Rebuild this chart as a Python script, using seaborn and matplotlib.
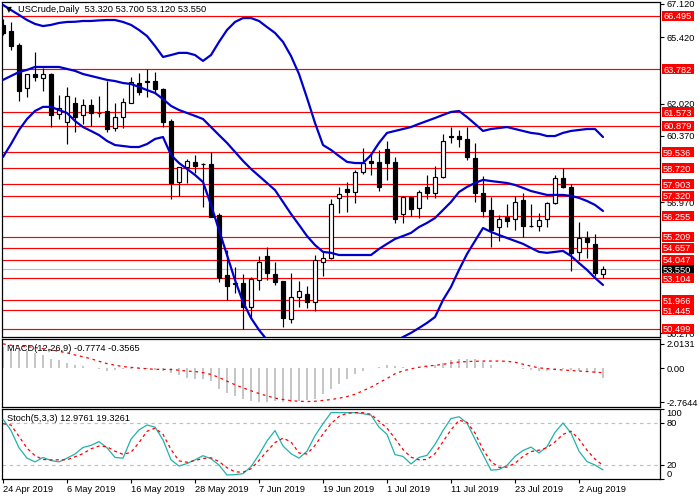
import numpy as np
import pandas as pd
import matplotlib
matplotlib.use("Agg")
import matplotlib.pyplot as plt
import matplotlib.transforms as mtransforms
from matplotlib.patches import Rectangle
import seaborn as sns

# ---------------- data ----------------
opens = [66.03, 65.73, 65.01, 62.80, 63.53, 63.31, 63.53, 61.47, 61.09, 62.03,
         61.42, 61.93, 61.55, 61.64, 60.79, 61.32, 62.03, 63.05, 63.17, 63.17,
         62.76, 61.13, 58.03, 58.79, 59.02, 58.94, 58.93, 56.32, 53.26, 52.84,
         52.84, 51.60, 53.00, 54.25, 53.31, 52.95, 50.99, 52.15, 52.27, 51.90,
         53.94, 54.11, 57.18, 57.65, 57.52, 58.54, 59.07, 59.02, 59.68, 59.02,
         56.36, 57.23, 56.67, 57.74, 57.43, 58.25, 60.36, 60.36, 60.19, 59.22,
         57.43, 56.58, 55.70, 56.24, 56.10, 57.09, 55.78, 55.78, 56.10, 56.92,
         58.20, 57.74, 54.45, 55.13, 54.83, 53.32]
highs = [66.32, 66.17, 65.10, 63.55, 64.64, 63.82, 63.56, 62.46, 62.85, 62.37,
         62.27, 62.24, 62.42, 63.17, 62.03, 62.29, 63.39, 63.56, 63.77, 63.65,
         62.80, 61.21, 58.79, 59.17, 59.39, 58.97, 59.53, 56.41, 54.54, 53.68,
         53.31, 53.17, 54.23, 54.70, 53.94, 52.95, 53.38, 52.97, 52.70, 54.28,
         54.42, 57.13, 57.74, 58.03, 58.63, 59.73, 59.56, 59.65, 60.12, 59.30,
         57.30, 57.26, 57.60, 58.37, 58.83, 60.46, 60.84, 60.67, 60.84, 59.99,
         58.32, 57.26, 56.32, 56.89, 57.30, 57.46, 56.89, 56.41, 57.00, 58.37,
         58.71, 57.91, 55.98, 55.51, 55.35, 53.70]
lows = [65.52, 64.76, 62.17, 62.37, 63.19, 62.68, 60.84, 61.21, 59.95, 60.58,
        60.97, 60.87, 61.35, 60.58, 60.63, 60.79, 62.03, 62.46, 62.37, 62.57,
        60.84, 57.14, 57.31, 57.97, 58.45, 56.72, 56.21, 52.92, 51.98, 52.32,
        50.48, 51.05, 52.49, 53.00, 52.75, 50.62, 50.82, 51.60, 51.56, 51.43,
        53.21, 54.08, 56.41, 56.49, 56.95, 58.42, 58.37, 57.57, 58.11, 55.93,
        55.90, 56.27, 56.15, 57.14, 57.21, 58.22, 60.02, 59.82, 59.14, 57.00,
        56.24, 54.70, 55.01, 55.70, 55.56, 55.18, 55.70, 55.53, 55.70, 56.89,
        57.69, 53.48, 54.03, 54.14, 53.21, 53.12]
closes = [65.61, 64.98, 62.68, 63.53, 63.36, 63.53, 61.43, 61.78, 62.42, 61.35,
          61.93, 61.52, 61.52, 60.73, 61.32, 62.08, 63.10, 62.63, 63.10, 62.76,
          61.09, 57.97, 58.76, 59.07, 58.84, 58.91, 56.24, 53.12, 52.71, 52.80,
          51.60, 53.04, 53.94, 53.35, 52.92, 51.05, 52.12, 52.43, 51.86, 54.03,
          54.11, 56.87, 57.38, 57.52, 58.54, 58.97, 59.00, 57.77, 59.00, 56.12,
          57.23, 56.63, 57.52, 57.43, 58.25, 60.12, 60.29, 60.19, 59.27, 57.43,
          56.54, 55.56, 56.10, 56.03, 57.00, 55.76, 55.74, 56.07, 56.92, 58.23,
          57.77, 54.37, 55.13, 54.93, 53.38, 53.55]

bb_upper = [67.06, 66.80, 66.55, 66.29, 66.09, 65.98, 66.04, 66.14, 66.19, 66.20,
            66.24, 66.24, 66.27, 66.29, 66.29, 66.19, 66.04, 65.78, 65.47, 64.96,
            64.40, 64.50, 64.61, 64.61, 64.50, 64.20, 64.50, 65.17, 65.78, 66.19,
            66.39, 66.39, 66.24, 65.93, 65.63, 65.17, 64.45, 63.53, 62.31, 61.03,
            59.90, 59.65, 59.34, 59.04, 58.98, 58.98, 59.39, 60.01, 60.52, 60.62,
            60.72, 60.82, 60.98, 61.13, 61.28, 61.44, 61.59, 61.64, 61.33, 60.98,
            60.62, 60.72, 60.77, 60.82, 60.72, 60.62, 60.52, 60.47, 60.36, 60.36,
            60.52, 60.62, 60.67, 60.72, 60.72, 60.31]
bb_middle = [63.23, 63.43, 63.63, 63.74, 63.89, 63.89, 63.89, 63.89, 63.79, 63.69,
             63.53, 63.43, 63.33, 63.23, 63.17, 63.07, 63.02, 62.87, 62.71, 62.56,
             62.25, 61.90, 61.69, 61.54, 61.39, 61.23, 60.82, 60.41, 60.01, 59.55,
             59.09, 58.68, 58.32, 57.96, 57.60, 56.99, 56.38, 55.82, 55.25, 54.79,
             54.44, 54.39, 54.28, 54.28, 54.28, 54.28, 54.28, 54.59, 54.85, 55.10,
             55.25, 55.41, 55.71, 55.92, 56.17, 56.58, 56.99, 57.50, 57.76, 57.96,
             58.12, 58.06, 58.01, 57.96, 57.86, 57.71, 57.55, 57.45, 57.35, 57.35,
             57.35, 57.30, 57.20, 57.04, 56.84, 56.53]
bb_lower = [59.29, 59.95, 60.67, 61.23, 61.64, 61.85, 61.85, 61.69, 61.54, 61.13,
            60.82, 60.62, 60.41, 60.11, 59.90, 59.85, 59.80, 59.80, 59.95, 60.21,
            60.31, 59.39, 58.98, 58.68, 58.37, 58.01, 56.84, 55.56, 54.28, 53.00,
            51.88, 51.06, 50.45, 49.94, 49.58, 48.81, 48.30, 48.10, 48.20, 48.56,
            48.97, 49.12, 49.22, 49.53, 49.58, 49.58, 49.58, 49.63, 49.68, 49.84,
            50.09, 50.30, 50.55, 50.81, 51.11, 51.98, 52.65, 53.52, 54.33, 55.00,
            55.66, 55.46, 55.30, 55.15, 55.00, 54.85, 54.64, 54.44, 54.39, 54.44,
            54.49, 54.23, 53.87, 53.52, 53.11, 52.75]

macd_main = [1.78, 1.62, 1.56, 1.42, 1.29, 1.07, 0.79, 0.68, 0.46, 0.24,
             0.19, 0.06, -0.02, -0.22, -0.17, -0.08, -0.03, -0.02, -0.06, -0.11,
             -0.22, -0.35, -0.57, -0.77, -0.85, -0.90, -1.05, -1.73, -2.00, -2.27,
             -2.54, -2.70, -2.74, -2.74, -2.70, -2.76, -2.74, -2.70, -2.62, -2.53,
             -2.13, -1.73, -1.31, -0.90, -0.50, -0.22, 0.00, 0.11, 0.24, 0.19,
             0.13, 0.06, 0.06, 0.19, 0.28, 0.46, 0.68, 0.79, 0.74, 0.74,
             0.52, 0.24, 0.06, 0.00, 0.06, -0.08, -0.17, -0.19, -0.22, -0.17,
             -0.08, -0.17, -0.22, -0.30, -0.41, -0.7774]
macd_signal = [2.01, 1.89, 1.85, 1.78, 1.71, 1.62, 1.52, 1.40, 1.27, 1.10,
               0.95, 0.79, 0.58, 0.39, 0.26, 0.15, 0.08, 0.02, -0.03, -0.08,
               -0.08, -0.10, -0.15, -0.22, -0.26, -0.35, -0.50, -0.74, -1.05, -1.34,
               -1.60, -1.84, -2.06, -2.26, -2.44, -2.55, -2.65, -2.70, -2.72, -2.70,
               -2.63, -2.56, -2.45, -2.31, -2.13, -1.84, -1.54, -1.18, -0.83, -0.44,
               -0.20, -0.04, 0.09, 0.19, 0.25, 0.33, 0.44, 0.52, 0.56, 0.58,
               0.60, 0.60, 0.60, 0.58, 0.50, 0.34, 0.18, 0.04, -0.02, -0.09,
               -0.13, -0.18, -0.22, -0.26, -0.31, -0.3565]

stoch_main = [85.4, 69.2, 44.6, 29.8, 24.4, 30.8, 26.4, 24.4, 29.8, 35.7,
              45.1, 48.0, 53.4, 44.6, 30.8, 29.8, 56.9, 70.2, 77.1, 74.1,
              55.9, 27.4, 18.5, 22.0, 27.4, 33.3, 28.9, 20.0, 5.7, 6.2,
              7.7, 17.5, 34.8, 54.4, 69.2, 47.1, 36.2, 29.8, 39.7, 61.8,
              79.0, 94.8, 94.8, 94.8, 94.8, 93.3, 91.3, 74.1, 63.8, 34.8,
              32.3, 21.5, 30.8, 33.8, 49.5, 69.2, 86.4, 88.9, 80.0, 56.9,
              34.8, 12.6, 13.6, 19.5, 32.3, 40.7, 45.6, 37.2, 46.1, 66.7,
              80.0, 65.7, 39.7, 24.9, 20.0, 12.9761]
stoch_signal = [79.0, 77.1, 60.8, 44.1, 33.3, 27.9, 27.4, 27.4, 27.4, 31.8,
                36.2, 43.1, 47.1, 46.1, 39.7, 35.2, 38.2, 52.0, 68.2, 72.6,
                63.8, 42.1, 25.9, 23.9, 26.4, 29.3, 30.3, 24.9, 16.1, 10.2,
                9.7, 14.6, 26.4, 39.7, 52.0, 58.4, 53.0, 37.2, 35.7, 48.0,
                64.3, 79.0, 89.4, 93.8, 94.8, 94.8, 92.3, 82.5, 72.6, 57.9,
                42.1, 31.3, 27.4, 27.9, 36.2, 53.4, 70.2, 83.9, 81.0, 65.7,
                42.1, 24.9, 16.6, 17.0, 22.5, 32.3, 39.2, 41.2, 44.6, 53.0,
                63.8, 68.2, 56.9, 41.2, 28.4, 19.3261]

red_levels = [66.495, 63.782, 61.573, 60.879, 59.536, 58.720, 57.903, 57.320,
              56.255, 55.209, 54.657, 54.047, 53.104, 51.966, 51.445, 50.499]
last_price = 53.550
price_ticks = [67.120, 65.420, 62.020, 60.370, 56.970, 50.270]
macd_ticks = [2.0131, 0.0, -2.7644]
macd_tick_labels = ["2.0131", "0.00", "-2.7644"]
stoch_ticks = [0, 20, 80, 100]
stoch_levels = [20, 80]
date_labels = ["24 Apr 2019", "6 May 2019", "16 May 2019", "28 May 2019", "7 Jun 2019",
               "19 Jun 2019", "1 Jul 2019", "11 Jul 2019", "23 Jul 2019", "2 Aug 2019"]
title_main = "USCrude,Daily  53.320 53.700 53.120 53.550"
title_macd = "MACD(12,26,9) -0.7774 -0.3565"
title_stoch = "Stoch(5,3,3) 12.9761 19.3261"

# ---------------- style ----------------
sns.set_style("white")
plt.rcParams['font.family'] = ['Liberation Sans', 'DejaVu Sans']
FS = 6.7

n = len(opens)
idx = np.arange(n)
dates = pd.bdate_range("2019-04-24", periods=n)
date_pos = [dates.get_loc(pd.to_datetime(d, format="%d %b %Y")) for d in date_labels]

o = np.array(opens); h = np.array(highs); l = np.array(lows); c = np.array(closes)

W, H = 700, 500
fig = plt.figure(figsize=(7, 5), dpi=100)
fig.patch.set_facecolor("white")

def rect(x0, y0, x1, y1):
    return [x0 / W, 1 - y1 / H, (x1 - x0) / W, (y1 - y0) / H]

ax = fig.add_axes(rect(2, 2, 660, 337))
axm = fig.add_axes(rect(2, 339, 660, 407))
axs = fig.add_axes(rect(2, 409, 660, 479))

XL = (-0.125, 82.125)
for a in (ax, axm, axs):
    a.set_xlim(*XL)
    a.set_facecolor("white")
    for s in a.spines.values():
        s.set_color("black")
        s.set_linewidth(0.9)
        s.set_visible(True)
    a.tick_params(axis='y', which='both', right=True, left=False, labelright=True,
                  labelleft=False, length=3, width=0.8, direction='out', pad=1.5,
                  labelsize=FS, colors='black')
    a.yaxis.set_label_position("right")
    a.set_xlabel(""); a.set_ylabel("")

# ---------------- main panel ----------------
YL = (50.09, 67.21)
ax.set_ylim(*YL)
px = (YL[1] - YL[0]) / 335.0
trans = mtransforms.blended_transform_factory(ax.transAxes, ax.transData)

for lv in red_levels:
    ax.axhline(lv, color='#FF0000', lw=0.85, zorder=1)
ax.axhline(last_price, color='#C0C0C0', lw=0.85, zorder=1)

# candles
ax.vlines(idx, l, h, color='black', lw=0.85, zorder=3)
body_bottom = np.minimum(o, c)
body_h = np.maximum(np.abs(c - o), 0.035)
body_col = np.where(c >= o, 'white', 'black')
ax.bar(idx, body_h, bottom=body_bottom, width=0.5, color=body_col,
       edgecolor='black', linewidth=0.85, zorder=4)

# Bollinger bands
for band in (bb_upper, bb_middle, bb_lower):
    sns.lineplot(x=idx, y=band, ax=ax, color='#0000CD', lw=1.6, zorder=5,
                 legend=False)
ax.set_xlim(*XL); ax.set_ylim(*YL)

ax.set_yticks(price_ticks)
ax.set_yticklabels([f"{t:.3f}" for t in price_ticks])
ax.set_xticks([])

# right-side price labels
hh = 5.0 * px
ax.add_patch(Rectangle((1.003, last_price - hh), 0.0486, 2 * hh, transform=trans,
                       clip_on=False, fc='black', ec='none', zorder=9))
ax.text(1.0046, last_price, f"{last_price:.3f}", transform=trans, ha='left',
        va='center_baseline', color='white', fontsize=FS, zorder=9.5, clip_on=False)
for lv in red_levels:
    ax.add_patch(Rectangle((1.003, lv - hh), 0.0486, 2 * hh, transform=trans,
                           clip_on=False, fc='#FF0000', ec='none', zorder=10))
    ax.text(1.0046, lv, f"{lv:.3f}", transform=trans, ha='left', va='center_baseline',
            color='white', fontsize=FS, zorder=11, clip_on=False)

ax.text(0.0065, 0.979, "\u25BC", transform=ax.transAxes, fontsize=5.5,
        family=['DejaVu Sans'], ha='left', va='center', color='black', zorder=12)
ax.text(0.0243, 0.977, title_main, transform=ax.transAxes, fontsize=FS,
        ha='left', va='center', color='black', zorder=12)

# ---------------- MACD panel ----------------
MYL = (-3.17, 2.41)
axm.set_ylim(*MYL)
axm.vlines(idx, 0, macd_main, color='#C0C0C0', lw=1.3, zorder=2)
sns.lineplot(x=idx, y=macd_signal, ax=axm, color='#FF0000', lw=0.9,
             linestyle=(0, (2.2, 3.0)), zorder=3, legend=False)
axm.set_xlim(*XL); axm.set_ylim(*MYL)
axm.set_yticks(macd_ticks)
axm.set_yticklabels(macd_tick_labels)
axm.set_xticks([])
axm.text(0.0076, 0.853, title_macd, transform=axm.transAxes, fontsize=FS,
         ha='left', va='center', color='black', zorder=12)

# ---------------- Stochastic panel ----------------
SYL = (0, 100)
axs.set_ylim(*SYL)
for lv in stoch_levels:
    axs.axhline(lv, color='#C0C0C0', lw=0.85, linestyle=(0, (3, 3)), zorder=1)
sns.lineplot(x=idx, y=stoch_main, ax=axs, color='#20B2AA', lw=0.9, zorder=3,
             legend=False)
sns.lineplot(x=idx, y=stoch_signal, ax=axs, color='#FF0000', lw=0.9,
             linestyle=(0, (2.5, 2.5)), zorder=4, legend=False)
axs.set_xlim(*XL); axs.set_ylim(*SYL)
axs.set_yticks(stoch_ticks)
axs.set_yticklabels([str(t) for t in stoch_ticks])
for lbl, t in zip(axs.get_yticklabels(), stoch_ticks):
    if t == 100:
        lbl.set_va('top')
    elif t == 0:
        lbl.set_va('bottom')
axs.set_xticks(date_pos)
axs.set_xticklabels(date_labels, ha='left')
axs.tick_params(axis='x', bottom=True, length=3, width=0.8, direction='out',
                pad=1.5, labelsize=FS, colors='black')
axs.text(0.0076, 0.871, title_stoch, transform=axs.transAxes, fontsize=FS,
         ha='left', va='center', color='black', zorder=12)
axs.set_xlabel(""); axm.set_xlabel(""); ax.set_xlabel("")

fig.savefig("out.png", dpi=100, facecolor='white')
